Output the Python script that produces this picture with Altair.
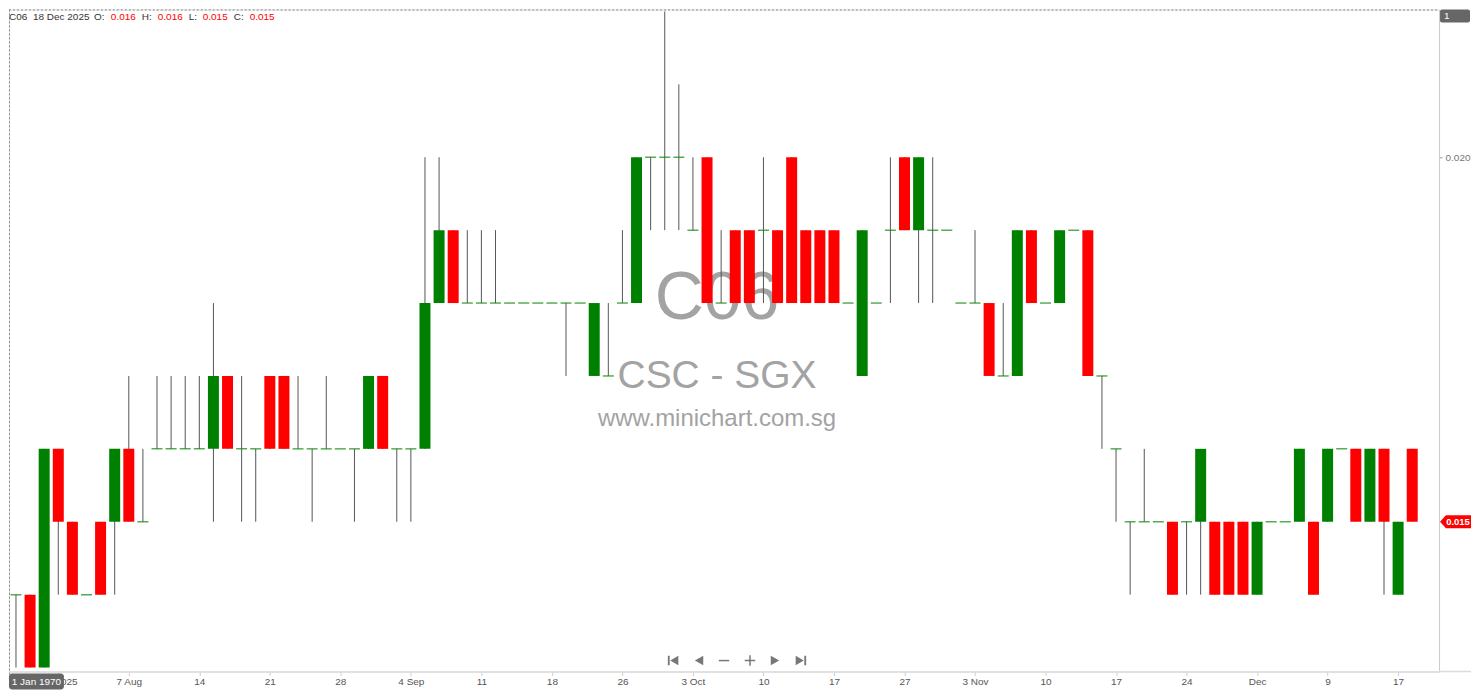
import altair as alt
import pandas as pd

# prices in units of 0.001 (tenths of a cent)
OPEN = [14, 14, 13, 16, 15, 14, 15, 15, 16, 15,
        16, 16, 16, 16, 16, 17, 16, 16, 17, 17,
        16, 16, 16, 16, 16, 16, 17, 16, 16, 16,
        18, 19, 18, 18, 18, 18, 18, 18, 18, 18,
        18, 17, 17, 18, 18, 20, 20, 20, 19, 20,
        18, 19, 19, 19, 19, 20, 19, 19, 19, 18,
        17, 18, 19, 20, 19, 19, 19, 18, 18, 18,
        17, 17, 19, 18, 18, 19, 19, 17, 16, 15,
        15, 15, 15, 15, 15, 15, 15, 15, 14, 15,
        15, 15, 15, 15, 16, 16, 15, 16, 14, 16]
HIGH = [14, 14, 16, 16, 15, 14, 15, 16, 17, 16,
        17, 17, 17, 17, 18, 17, 17, 16, 17, 17,
        17, 16, 17, 16, 16, 17, 17, 16, 16, 20,
        20, 19, 19, 19, 19, 18, 18, 18, 18, 18,
        18, 18, 18, 19, 20, 20, 22, 21, 20, 20,
        19, 19, 19, 20, 19, 20, 19, 19, 19, 18,
        19, 18, 20, 20, 20, 20, 19, 18, 19, 18,
        18, 19, 19, 18, 19, 19, 19, 17, 16, 15,
        16, 15, 15, 15, 16, 15, 15, 15, 15, 15,
        15, 16, 15, 16, 16, 16, 16, 16, 15, 16]
LOW = [13, 13, 13, 14, 14, 14, 14, 14, 15, 15,
       16, 16, 16, 16, 15, 16, 15, 15, 16, 16,
       16, 15, 16, 16, 15, 16, 16, 15, 15, 16,
       18, 18, 18, 18, 18, 18, 18, 18, 18, 17,
       18, 17, 17, 18, 18, 19, 19, 19, 19, 18,
       18, 18, 18, 18, 18, 18, 18, 18, 18, 18,
       17, 18, 18, 19, 18, 18, 19, 18, 18, 17,
       17, 17, 18, 18, 18, 19, 17, 16, 15, 14,
       15, 15, 14, 14, 14, 14, 14, 14, 14, 15,
       15, 15, 14, 15, 16, 15, 15, 14, 14, 15]
CLOSE = [14, 13, 16, 15, 14, 14, 14, 16, 15, 15,
         16, 16, 16, 16, 17, 16, 16, 16, 16, 16,
         16, 16, 16, 16, 16, 17, 16, 16, 16, 18,
         19, 18, 18, 18, 18, 18, 18, 18, 18, 18,
         18, 18, 17, 18, 20, 20, 20, 20, 19, 18,
         18, 18, 18, 19, 18, 18, 18, 18, 18, 18,
         19, 18, 19, 19, 20, 19, 19, 18, 18, 17,
         17, 19, 18, 18, 19, 19, 17, 17, 16, 15,
         15, 15, 14, 15, 16, 14, 14, 14, 15, 15,
         15, 16, 14, 16, 16, 15, 16, 15, 15, 15]

TICK_BARS = [3, 8, 13, 18, 23, 28, 33, 38, 43, 48, 53, 58, 63, 68, 73, 78, 83, 88, 93, 98]
TICK_LABELS = ["Jul 2025", "7 Aug", "14", "21", "28", "4 Sep", "11", "18", "26", "3 Oct",
               "10", "17", "27", "3 Nov", "10", "17", "24", "Dec", "9", "17"]
Y_TICKS = [0.020]
HEADER_PARTS = ["C06", "18 Dec 2025", "O:", "0.016", "H:", "0.016", "L:", "0.015", "C:", "0.015"]
WATERMARK = ["C06", "CSC - SGX", "www.minichart.com.sg"]

FONT = "Liberation Sans"
UP, DOWN = "#008000", "#ff0000"

n = len(OPEN)
df = pd.DataFrame({
    "i": list(range(n)),
    "open": [v / 1000 for v in OPEN],
    "high": [v / 1000 for v in HIGH],
    "low": [v / 1000 for v in LOW],
    "close": [v / 1000 for v in CLOSE],
})
df["dir"] = ["up" if c > o else ("down" if c < o else "flat") for o, c in zip(OPEN, CLOSE)]

W, H = 1432, 663
xscale = alt.Scale(domain=[-0.1406, 100.548], nice=False, zero=False)
yscale = alt.Scale(domain=[0.0129452, 0.022027], nice=False, zero=False)

label_arr = "[" + ",".join("'" + s + "'" for s in TICK_LABELS) + "]"
xaxis = alt.Axis(values=TICK_BARS, labelExpr=label_arr + "[round((datum.value-3)/5)]",
                 grid=False, title=None, domainColor="#dcdcdc", domainWidth=1.5,
                 tickColor="#cfcfcf", tickSize=4, labelColor="#555", labelFontSize=10,
                 labelFont=FONT, labelPadding=1, labelOverlap=False, labelFlush=False)
yaxis = alt.Axis(orient="right", values=Y_TICKS, format=".3f", grid=False, title=None,
                 domainColor="#cccccc", tickColor="#999", tickSize=3, labelColor="#777",
                 labelFontSize=10, labelFont=FONT, labelPadding=3)

X = alt.X("i:Q", scale=xscale, axis=xaxis)

base = alt.Chart(df)

# watermark (behind)
wm_sizes = [68, 39, 24]
wm_y = [310, 379, 417]
wm_layers = []
for t, s, yy in zip(WATERMARK, wm_sizes, wm_y):
    wm_layers.append(
        alt.Chart(pd.DataFrame({"t": [t]})).mark_text(
            font=FONT, fontSize=s, color="#a3a3a3", align="center", baseline="alphabetic"
        ).encode(text="t:N", x=alt.value(709), y=alt.value(yy))
    )

wicks = base.mark_rule(color="#555555", strokeWidth=1, clip=True).encode(
    x=X, y=alt.Y("low:Q", scale=yscale, axis=yaxis), y2="high:Q")

bodies = base.transform_filter("datum.dir != 'flat'").mark_bar(size=11, clip=True).encode(
    x=X, y=alt.Y("open:Q", scale=yscale, axis=yaxis), y2="close:Q",
    color=alt.Color("dir:N", scale=alt.Scale(domain=["up", "down"], range=[UP, DOWN]), legend=None))

dojis = base.transform_filter("datum.dir == 'flat'").mark_tick(
    orient="horizontal", size=11, thickness=1.5, color="#0c8a0c", clip=True).encode(
    x=X, y=alt.Y("close:Q", scale=yscale, axis=yaxis))

# dotted frame (top and left)
frame_top = alt.Chart(pd.DataFrame({"a": [0]})).mark_rule(
    color="#8a8a8a", strokeDash=[2, 2], strokeWidth=1).encode(
    x=alt.value(0), x2=alt.value(W), y=alt.value(0.5))
frame_left = alt.Chart(pd.DataFrame({"a": [0]})).mark_rule(
    color="#8a8a8a", strokeDash=[2, 2], strokeWidth=1).encode(
    x=alt.value(0.5), y=alt.value(0), y2=alt.value(H + 3))
bottom_ext = alt.Chart(pd.DataFrame({"a": [0]})).mark_rule(
    color="#dcdcdc", strokeWidth=1.5).encode(
    x=alt.value(W), x2=alt.value(W + 32), y=alt.value(H))

# header
hdr_x = [0, 24, 85, 102, 133, 149, 180, 194, 225, 241]
hdr_layers = []
for k, (t, xx) in enumerate(zip(HEADER_PARTS, hdr_x)):
    col = DOWN if (k >= 3 and k % 2 == 1) else "#333333"
    hdr_layers.append(
        alt.Chart(pd.DataFrame({"t": [t]})).mark_text(
            font=FONT, fontSize=10, color=col, align="left", baseline="middle"
        ).encode(text="t:N", x=alt.value(xx), y=alt.value(7.5))
    )

# last price tag
last = df.tail(1).copy()
last["label"] = [f"{CLOSE[-1] / 1000:.3f}"]
TAG = "M-1,0 L-0.62,-0.42 L1,-0.42 L1,0.42 L-0.62,0.42 Z"
tag = alt.Chart(last).mark_point(shape=TAG, size=31 * 31, filled=True, color=DOWN,
                                 opacity=1, strokeWidth=0).encode(
    x=alt.value(1448.5), y=alt.Y("close:Q", scale=yscale, axis=yaxis))
tag_text = alt.Chart(last).mark_text(font=FONT, fontSize=9.5, fontWeight="bold",
                                     color="white", align="center", baseline="middle").encode(
    x=alt.value(1451), y=alt.Y("close:Q", scale=yscale, axis=yaxis), text="label:N")

# "1" box top right
one_box = alt.Chart(pd.DataFrame({"a": [0]})).mark_rect(color="#666666", cornerRadius=2).encode(
    x=alt.value(1433), x2=alt.value(1463), y=alt.value(0), y2=alt.value(13))
one_text = alt.Chart(pd.DataFrame({"t": ["1"]})).mark_text(
    font=FONT, fontSize=10, color="white", align="left", baseline="middle").encode(
    text="t:N", x=alt.value(1437), y=alt.value(6.5))

# date box bottom left
date_box = alt.Chart(pd.DataFrame({"a": [0]})).mark_rect(color="#666666", cornerRadius=3).encode(
    x=alt.value(0), x2=alt.value(55), y=alt.value(665), y2=alt.value(681))
date_text = alt.Chart(pd.DataFrame({"t": ["1 Jan 1970"]})).mark_text(
    font=FONT, fontSize=10, color="white", align="center", baseline="middle").encode(
    text="t:N", x=alt.value(27.5), y=alt.value(673))

# navigation icons
NAV = [
    "M-1,-0.9 L-0.65,-0.9 L-0.65,0.9 L-1,0.9 Z M-0.55,0 L1,-0.9 L1,0.9 Z",
    "M-0.8,0 L0.8,-0.9 L0.8,0.9 Z",
    "M-1,-0.14 L1,-0.14 L1,0.14 L-1,0.14 Z",
    "M-1,-0.14 L-0.14,-0.14 L-0.14,-1 L0.14,-1 L0.14,-0.14 L1,-0.14 L1,0.14 L0.14,0.14 L0.14,1 L-0.14,1 L-0.14,0.14 L-1,0.14 Z",
    "M0.8,0 L-0.8,-0.9 L-0.8,0.9 Z",
    "M1,-0.9 L0.65,-0.9 L0.65,0.9 L1,0.9 Z M0.55,0 L-1,-0.9 L-1,0.9 Z",
]
nav_x = [665, 691, 716, 742, 767, 793]
nav_layers = []
for p, xx in zip(NAV, nav_x):
    nav_layers.append(
        alt.Chart(pd.DataFrame({"a": [0]})).mark_point(
            shape=p, size=110, filled=True, color="#777777", opacity=1, strokeWidth=0
        ).encode(x=alt.value(xx), y=alt.value(652))
    )

chart = alt.layer(
    *wm_layers, wicks, bodies, dojis, frame_top, frame_left, bottom_ext,
    *hdr_layers, tag, tag_text, one_box, one_text, date_box, date_text, *nav_layers
).properties(width=W, height=H, padding=0).configure_view(stroke=None).configure(background="white")

chart.save("out.html", embed_options={"renderer": "svg", "actions": False})
